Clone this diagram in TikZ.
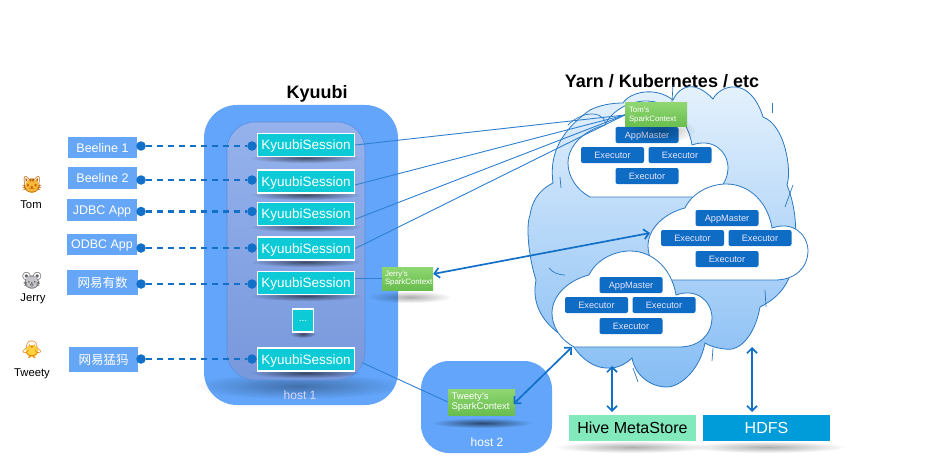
\documentclass[tikz,border=0pt]{standalone}
\usepackage{fontspec}
\setmainfont{Liberation Sans}
\newfontfamily\cjkf{Noto Sans CJK SC}
\newfontfamily\emojif{Noto Emoji}
\usetikzlibrary{arrows.meta,fadings,shadings}
\tikzfading[name=softedge,inner color=transparent!45,outer color=transparent!100]
\tikzfading[name=softlight,inner color=transparent!68,outer color=transparent!100]
\newcommand{\fsz}[1]{\fontsize{#1}{#1}\selectfont}
\definecolor{hostblue}{HTML}{62A5FA}
\definecolor{clientblue}{HTML}{66A6F7}
\definecolor{linkblue}{HTML}{1270C8}
\definecolor{thinblue}{HTML}{2F80D0}
\definecolor{exec}{HTML}{0F6CC4}
\definecolor{sess}{HTML}{0CCBD6}
\definecolor{cloudline}{HTML}{2B78C2}
\definecolor{cloudtop}{HTML}{E8F3FD}
\definecolor{cloudbot}{HTML}{86BDF4}
\definecolor{innerline}{HTML}{5C8EE0}
\definecolor{innertop}{HTML}{95B2EC}
\definecolor{innerbot}{HTML}{7898DC}
\definecolor{ctxtop}{HTML}{8FD672}
\definecolor{ctxbot}{HTML}{69BD4E}
\definecolor{hivec}{HTML}{82E9BD}
\definecolor{hdfsc}{HTML}{009CD9}
\definecolor{catc}{HTML}{F6B73C}
\definecolor{mousec}{HTML}{C4C4C8}
\definecolor{chickc}{HTML}{FFD23F}
\tikzset{
  softshadow/.style={fill=black,path fading=softedge},
  lightshadow/.style={fill=black,path fading=softlight},
  client/.style={fill=clientblue,text=white,inner sep=0pt,text depth=0pt,font=\fsz{12.5}},
  session/.style={fill=sess,draw=white,line width=1.4pt,text=white,inner sep=0pt,text depth=0pt,minimum width=97pt,minimum height=23pt,font=\fsz{13.5}},
  dotn/.style={circle,fill=linkblue,inner sep=0pt,minimum size=9.5pt},
  dashlink/.style={linkblue,line width=2.4pt,dash pattern=on 6.5pt off 4.5pt},
  thinlink/.style={thinblue,line width=0.9pt},
  dbl/.style={linkblue,line width=1.7pt,{Straight Barb[length=5pt,width=10pt]}-{Straight Barb[length=5pt,width=10pt]}},
  ctx/.style={top color=ctxtop,bottom color=ctxbot,text=white,inner sep=0pt,align=left},
  worker/.style={fill=exec,rounded corners=2pt,text=white!90!blue,inner sep=0pt,text depth=0pt,minimum width=63pt,minimum height=16pt,font=\fsz{9.2}},
  who/.style={text=black,font=\fsz{11.3},inner sep=0pt},
  crack/.style={cloudline,line width=0.7pt},
  title/.style={text=black,inner sep=0pt},
}
\newcommand{\whitecloud}[3]{%
\begin{scope}[shift={(#1,#2)}]
  \draw[cloudline,line width=0.8pt,fill=white] (590,197) .. controls (577,190) and (568,177) .. (568,163)
    .. controls (568,145) and (585,130) .. (605,125)
    .. controls (612,110) and (630,101) .. (646,101)
    .. controls (670,101) and (688,120) .. (692,145)
    .. controls (712,138) and (727,150) .. (728,167)
    .. controls (728,185) and (715,197) .. (695,197) -- cycle;
  \node[worker] (am#3) at (647,135) {AppMaster};
  \node[worker] (exa#3) at (612.5,155) {Executor};
  \node[worker] (exb#3) at (680,155) {Executor};
  \node[worker] (exc#3) at (647,176) {Executor};
\end{scope}}
\begin{document}
\begin{tikzpicture}[x=1pt,y=-1pt]
\useasboundingbox (0,0) rectangle (939,468);
\fill[white] (0,0) rectangle (939,468);

% titles
\node[title,font=\bfseries\fsz{18}] (kt) at (317,94) {Kyuubi};
\node[title,font=\bfseries\fsz{18}] (yt) at (662,81) {Yarn / Kubernetes / etc};

% big cloud
\draw[cloudline,line width=0.8pt,top color=cloudtop,bottom color=cloudbot]
  (536,280) .. controls (528,255) and (526,225) .. (530,215)
  .. controls (533,195) and (545,187) .. (553,183)
  .. controls (550,160) and (555,135) .. (590,110)
  .. controls (600,105) and (612,103) .. (623,103)
  .. controls (630,92) and (655,86) .. (673,100)
  .. controls (680,85) and (695,80) .. (713,99)
  .. controls (720,85) and (750,75) .. (763,117)
  .. controls (785,125) and (792,170) .. (787,185)
  .. controls (797,210) and (797,235) .. (794,260)
  .. controls (790,285) and (778,298) .. (760,307)
  .. controls (755,335) and (740,352) .. (725,349)
  .. controls (715,348) and (708,345) .. (705,343)
  .. controls (700,370) and (680,387) .. (667,387)
  .. controls (650,387) and (635,375) .. (632,358)
  .. controls (625,365) and (615,369) .. (607,368)
  .. controls (590,368) and (575,352) .. (570,340)
  .. controls (550,330) and (530,310) .. (536,280) -- cycle;
\draw[crack] (772,103) -- (772,113);
\draw[crack] (560,177) -- (561,188);
\draw[crack] (793,185) -- (785,207);
\draw[crack] (549,268) .. controls (553,273) and (559,275) .. (565,275);
\draw[crack] (765,290) -- (766,307);
\draw[crack] (713,348) -- (712,361);
\draw[crack] (633,368) -- (638,382);
\draw[crack] (673,85) -- (672,102);
\draw[crack] (568,125) .. controls (585,108) and (608,112) .. (606,128);

% white clouds with workers
\whitecloud{0}{0}{1}
\whitecloud{80}{83}{2}
\whitecloud{-16}{150}{3}

% host 1
\fill[hostblue,rounded corners=33pt] (204,105) rectangle (398,405);
\fill[lightshadow] (298,386) ellipse (105 and 13);
\draw[innerline,line width=0.6pt,top color=innertop,bottom color=innerbot,rounded corners=28pt] (227,122) rectangle (365,380);
\node[inner sep=0pt,text=white!85!blue,font=\fsz{12}] (h1) at (300,395) {host 1};

% host 2
\fill[hostblue,rounded corners=28pt] (421,361) rectangle (552,453);
\node[inner sep=0pt,text=white,font=\fsz{12}] (h2) at (487,442) {host 2};

% shadows
\foreach \sy in {158,195,227,262,296,373}{
  \fill[softshadow] (306,\sy) ellipse (56 and 5);
}
\fill[softshadow] (303,334) ellipse (13 and 4);
\fill[lightshadow] (410,297) ellipse (42 and 6);
\fill[softshadow] (482,423) ellipse (50 and 5);
\fill[lightshadow] (632,447) ellipse (78 and 6);
\fill[lightshadow] (768,447) ellipse (78 and 6);
\fill[lightshadow] (660,130) ellipse (36 and 13);

% clients
\node[client,minimum width=69pt,minimum height=21pt] (c1) at (102.5,147.5) {Beeline 1};
\node[client,minimum width=69pt,minimum height=22pt] (c2) at (102.5,178) {Beeline 2};
\node[client,minimum width=70pt,minimum height=22pt] (c3) at (102,210) {JDBC App};
\node[client,minimum width=70pt,minimum height=21pt] (c4) at (102,244.5) {ODBC App};
\node[client,minimum width=71pt,minimum height=25pt] (c5) at (102.5,282.5) {\cjkf 网易有数};
\node[client,minimum width=69pt,minimum height=25pt] (c6) at (103.5,359.5) {\cjkf 网易猛犸};

% sessions
\node[session] (s1) at (306,145) {KyuubiSession};
\node[session] (s2) at (306,181.5) {KyuubiSession};
\node[session] (s3) at (306,214) {KyuubiSession};
\node[session] (s4) at (306,248.5) {KyuubiSession};
\node[session] (s5) at (306,283) {KyuubiSession};
\node[session,minimum width=21pt,font=\fsz{10}] (sd) at (303,320.5) {...};
\node[session] (s6) at (306,359.5) {KyuubiSession};

% dashed links
\foreach \n/\yy in {1/146,2/180,3/211.5,4/248,5/284,6/359}{
  \node[dotn] (dl\n) at (141,\yy) {};
  \node[dotn] (dr\n) at (252,\yy) {};
  \draw[dashlink] (dl\n) -- (dr\n);
}

% people
\fill[catc] (32,186) circle (6.8);
\fill[mousec] (32,282) circle (6.8);
\fill[chickc] (32,351) circle (6.2);
\node[inner sep=0pt] (e1) at (32,185) {\textcolor{orange!75!black}{\emojif\fsz{17}🐱}};
\node[inner sep=0pt] (e2) at (32,281) {\textcolor{gray!80!black}{\emojif\fsz{17}🐭}};
\node[inner sep=0pt] (e3) at (32,350) {\textcolor{orange!90!black}{\emojif\fsz{17}🐥}};
\node[who] (tom) at (31,205) {Tom};
\node[who] (jerry) at (33,299) {Jerry};
\node[who] (tweety) at (32,374) {Tweety};

% contexts
\node[ctx,minimum width=62pt,minimum height=24pt,font=\fsz{7.8}] (ctom) at (656,115) {\parbox{54pt}{\baselineskip=8.5pt Tom's\\SparkContext}};
\node[ctx,minimum width=51pt,minimum height=23pt,font=\fsz{7.8}] (cjerry) at (407.5,278.5) {\parbox{45pt}{\baselineskip=8.5pt Jerry's\\SparkContext}};
\node[ctx,minimum width=67pt,minimum height=26pt,font=\fsz{9.6}] (ctweety) at (481.5,402) {\parbox{60pt}{\baselineskip=10pt Tweety's\\SparkContext}};

% stores
\node[fill=hivec,text=black,inner sep=0pt,text depth=0pt,minimum width=127pt,minimum height=26pt,font=\fsz{16}] (hive) at (632.5,428) {Hive MetaStore};
\node[fill=hdfsc,text=white,inner sep=0pt,text depth=0pt,minimum width=127pt,minimum height=26pt,font=\fsz{16}] (hdfs) at (766.5,428) {HDFS};

% thin links
\draw[thinlink] (s1.east) -- (ctom.west);
\draw[thinlink] (s2.-4) -- (ctom.west);
\draw[thinlink] (s3.-6) -- (ctom.west);
\draw[thinlink] (s4.east) -- (ctom.west);
\draw[thinlink] (s5.east |- cjerry.west) -- (cjerry.west);
\draw[thinlink,shorten <=8pt] (s6.east) -- (ctweety.west);

% double arrows
\coordinate (a2) at (650,233);
\coordinate (a3) at (572,347);
\coordinate (b3) at (513.5,404);
\coordinate (hv) at (612,366);
\coordinate (hv2) at (612,412);
\coordinate (hd) at (752,347);
\coordinate (hd2) at (752,412);
\draw[dbl] (cjerry.10) -- (a2);
\draw[dbl] (b3) -- (a3);
\draw[dbl] (hv) -- (hv2);
\draw[dbl] (hd) -- (hd2);
\end{tikzpicture}
\end{document}
